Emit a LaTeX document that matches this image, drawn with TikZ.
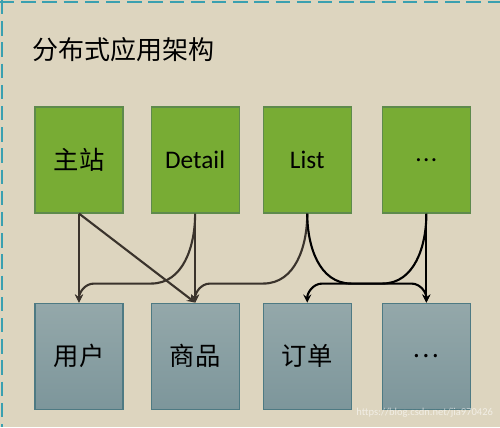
\documentclass[tikz,border=0pt]{standalone}
\usepackage{fontspec}
\setmainfont{Carlito}
\newfontfamily\cjk{Noto Sans CJK SC}
\usetikzlibrary{positioning,arrows}
\definecolor{bgbeige}{HTML}{DDD5BF}
\definecolor{dashteal}{HTML}{3AA0B0}
\definecolor{appgreen}{HTML}{78AC34}
\definecolor{appedge}{HTML}{5E8A4C}
\definecolor{svctop}{HTML}{94A8AA}
\definecolor{svcbottom}{HTML}{7D969B}
\definecolor{svcedge}{HTML}{4E7A83}
\definecolor{linkbrown}{HTML}{3A332C}

\begin{document}
\begin{tikzpicture}[
    appbox/.style={rectangle, draw=appedge, fill=appgreen, thick, minimum width=2.2cm, minimum height=2.65cm, inner sep=0pt, font=\fontsize{18}{20}\selectfont},
    svcbox/.style={rectangle, draw=svcedge, top color=svctop, bottom color=svcbottom, thick, minimum width=2.2cm, minimum height=2.65cm, inner sep=0pt, font=\fontsize{18}{20}\selectfont},
    link/.style={->, >=stealth, draw=linkbrown, line width=1.5pt},
    dashframe/.style={draw=dashteal, line width=1.8pt, dash pattern=on 0.36cm off 0.17cm}
    ]
        %Background
        \useasboundingbox[fill=bgbeige] (0,0) rectangle (12.5,10.675);
        \draw[dashframe] (0,10.625) -- (12.5,10.625);
        \draw[dashframe] (0.05,10.675) -- (0.05,0);

        %Title
        \node[anchor=west, inner sep=0pt, font=\fontsize{18.5}{20}\selectfont]
            (title) at (0.8,9.425) {\cjk 分布式应用架构};

        %Nodes
        \node[appbox] (main)    at (1.975,6.675)       {\cjk 主站};
        \node[appbox] (detail)  [right=0.675cm of main]   {Detail};
        \node[appbox] (list)    [right=0.575cm of detail] {List};
        \node[appbox] (more)    [right=0.75cm of list]    {.\kern1pt.\kern1pt.};
        \node[svcbox] (user)    [below=2.225cm of main]   {\cjk 用户};
        \node[svcbox] (goods)   [below=2.225cm of detail] {\cjk 商品};
        \node[svcbox] (order)   [below=2.225cm of list]   {\cjk 订单};
        \node[svcbox] (moresvc) [below=2.225cm of more]   {\cjk …};

        %Lines
        \draw[link] (main.south) -- (user.north);
        \draw[link] (main.south) -- (goods.north);
        \draw[link] (detail.south) -- (goods.north);
        \draw[link]
            (detail.south) to[out=-90,in=0] ++(-1.1,-1.75)
            -- ([xshift=0.375cm,yshift=0.475cm]user.north) to[out=180,in=90] (user.north);
        \draw[link]
            (list.south) to[out=-90,in=0] ++(-1.1,-1.75)
            -- ([xshift=0.375cm,yshift=0.475cm]goods.north) to[out=180,in=90] (goods.north);
        \draw[link, draw=black]
            (list.south) to[out=-90,in=180] ++(1.1,-1.75)
            -- ([xshift=-0.375cm,yshift=0.475cm]moresvc.north) to[out=0,in=90] (moresvc.north);
        \draw[link, draw=black]
            (more.south) to[out=-90,in=0] ++(-1.1,-1.75)
            -- ([xshift=0.375cm,yshift=0.475cm]order.north) to[out=180,in=90] (order.north);
        \draw[link, draw=black] (more.south) -- (moresvc.north);

        %Watermark
        \node[anchor=east, text=white, opacity=0.6, font=\fontsize{7.5}{9}\selectfont]
            (mark) at (12.45,0.35) {https://blog.csdn.net/jia970426};
    \end{tikzpicture}
\end{document}
